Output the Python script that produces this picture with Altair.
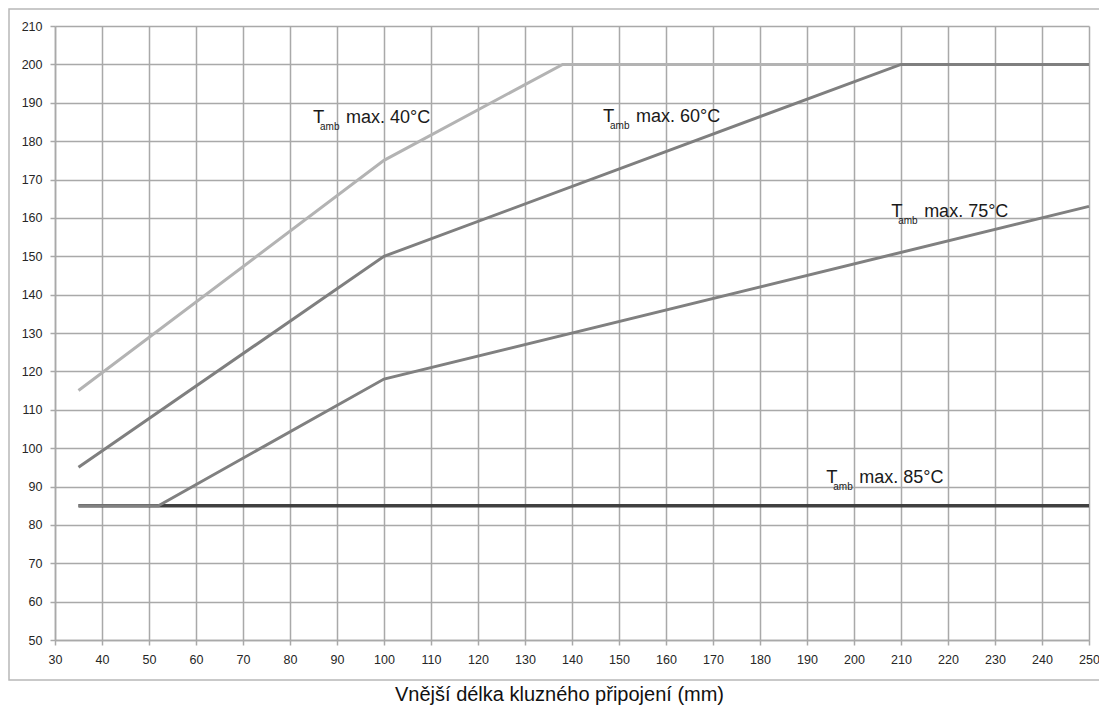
import altair as alt
import pandas as pd

# --- data ---
series_names = ["40", "60", "85", "75"]          # drawing order (later on top)
x40 = [35, 100, 138, 250]
y40 = [115, 175, 200, 200]
x60 = [35, 100, 210, 250]
y60 = [95, 150, 200, 200]
x75 = [35, 52, 100, 250]
y75 = [85, 85, 118, 163]
x85 = [35, 250]
y85 = [85, 85]

label_x = [84.9, 146.6, 207.9, 194.1]
label_y = [184.7, 184.9, 160.2, 90.8]
label_text = ["max. 40°C", "max. 60°C", "max. 75°C", "max. 85°C"]

x_ticks = list(range(30, 251, 10))
y_ticks = list(range(50, 211, 10))
x_title = "Vnější délka kluzného připojení (mm)"

series_xy = {"40": (x40, y40), "60": (x60, y60), "75": (x75, y75), "85": (x85, y85)}
series_style = {
    "40": ("#b3b3b3", 3),
    "60": ("#7f7f7f", 3),
    "75": ("#808080", 3),
    "85": ("#404040", 3.5),
}

W, H = 1034, 614
GRID = "#a9a9a9"
LABEL_FONT = "Liberation Sans"
ANNOT_FONT = "Liberation Sans"

x_enc = alt.X(
    "x:Q",
    scale=alt.Scale(domain=[30, 250], nice=False, zero=False),
    axis=alt.Axis(
        values=x_ticks, grid=True, gridColor=GRID, gridWidth=1.5,
        domainColor=GRID, domainWidth=1.5, tickColor=GRID, tickWidth=1.5,
        tickSize=5, labelPadding=8, labelFont=LABEL_FONT, labelFontSize=12.5,
        labelColor="#262626", labelFlush=False, labelOverlap=False,
        title=x_title, titleFont=LABEL_FONT, titleFontSize=20,
        titleFontWeight="normal", titleColor="#111111",
        titleX=504, titleY=60, titleAlign="center", titleBaseline="alphabetic",
    ),
)
y_enc = alt.Y(
    "y:Q",
    scale=alt.Scale(domain=[50, 210], nice=False, zero=False),
    axis=alt.Axis(
        values=y_ticks, grid=True, gridColor=GRID, gridWidth=1.5,
        domainColor=GRID, domainWidth=1.5, tickColor=GRID, tickWidth=1.5,
        tickSize=5, labelPadding=8, labelFont=LABEL_FONT, labelFontSize=12.5,
        labelColor="#262626", labelFlush=False, labelOverlap=False, title=None,
    ),
)

border = alt.Chart(pd.DataFrame({"a": [0]})).mark_rect(
    filled=False, stroke="#b8b8b8", strokeWidth=1.5, fillOpacity=0
).encode(
    x=alt.value(-46), x2=alt.value(W + 40), y=alt.value(-17), y2=alt.value(654)
)

layers = [border]
for s in series_names:
    xs, ys = series_xy[s]
    col, sw = series_style[s]
    df = pd.DataFrame({"x": xs, "y": ys, "i": list(range(len(xs)))})
    layers.append(
        alt.Chart(df).mark_line(color=col, strokeWidth=sw).encode(
            x=x_enc, y=y_enc, order="i:Q"
        )
    )

lab = pd.DataFrame({"x": label_x, "y": label_y, "t": label_text})
base = alt.Chart(lab).encode(x=x_enc, y=y_enc)
t_main = base.mark_text(
    align="left", baseline="alphabetic", font=ANNOT_FONT, fontSize=18.5, color="#1a1a1a"
).encode(text=alt.value("T"))
t_sub = base.mark_text(
    align="left", baseline="alphabetic", font=ANNOT_FONT, fontSize=10,
    color="#1a1a1a", dx=7, dy=7,
).encode(text=alt.value("amb"))
t_rest = base.mark_text(
    align="left", baseline="alphabetic", font=ANNOT_FONT, fontSize=18,
    color="#1a1a1a", dx=33,
).encode(text="t:N")

chart = alt.layer(*layers, t_main, t_sub, t_rest).properties(
    width=W, height=H,
    autosize=alt.AutoSizeParams(type="none"),
    padding={"left": 47, "top": 18, "right": 10, "bottom": 65},
    background="white",
).configure_view(stroke=None)

chart.save("out.html", embed_options={"renderer": "svg", "actions": False})
